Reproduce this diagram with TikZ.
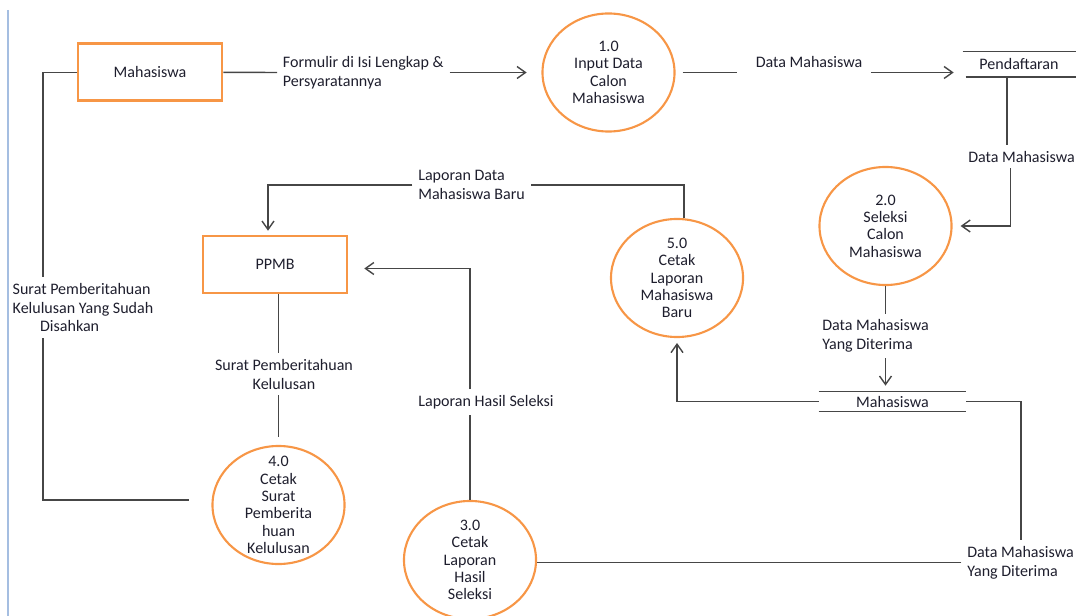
\documentclass[tikz,border=0pt]{standalone}
\usepackage{fontspec}
\setmainfont{Carlito}
\usepackage{xcolor}
\usepackage{tikz}
\usetikzlibrary{shapes.geometric,arrows.meta,positioning}
\definecolor{entityorange}{RGB}{247,150,70}
\definecolor{flowgray}{RGB}{70,70,70}
\definecolor{textnavy}{RGB}{30,30,45}
\definecolor{frameblue}{RGB}{165,190,225}

\begin{document}
\begin{tikzpicture}[
    x=0.025cm, y=-0.025cm,
    font=\fontsize{11.4}{13.5}\selectfont, text=textnavy,
    entity/.style={rectangle, draw=entityorange, line width=1.9pt, minimum width=3.6cm, minimum height=1.425cm},
    process/.style={ellipse, draw=entityorange, line width=1.5pt, minimum width=3.3cm, minimum height=2.95cm, inner sep=0pt},
    ptext/.style={align=center, font=\fontsize{11.4}{12.3}\selectfont},
    store/.style={rectangle, inner sep=0pt},
    flowlabel/.style={inner sep=4pt},
    flow/.style={draw=flowgray, line width=1pt},
    arrow/.style={flow, -{Straight Barb[length=6pt,width=8.5pt]}}
]
\useasboundingbox (0,0) rectangle (1076,616);
\draw[frameblue, line width=0.8pt] (8,10) -- (8,616);

% external entities
\node[entity] (mhs) at (150,72.3) {Mahasiswa};
\node[entity] (ppmb) at (275,264.5) {PPMB};

% processes
\node[process, label={[ptext]center:{1.0\\Input Data\\Calon\\Mahasiswa}}] (p1) at (608.5,72.5) {};
\node[process, label={[ptext]center:{2.0\\Seleksi\\Calon\\Mahasiswa}}] (p2) at (885.5,226) {};
\node[process, label={[ptext]center:{3.0\\Cetak\\Laporan\\Hasil\\Seleksi}}] (p3) at (470,560) {};
\node[process, label={[ptext]center:{4.0\\Cetak\\Surat\\Pemberita\\huan\\Kelulusan}}] (p4) at (278.5,505) {};
\node[process, label={[ptext]center:{5.0\\Cetak\\Laporan\\Mahasiswa\\Baru}}] (p5) at (677,278) {};

% data stores
\node[store, minimum width=2.8cm, minimum height=0.625cm] (ds1) at (1019,64.2) {Pendaftaran};
\node[store, minimum width=3.675cm, minimum height=0.475cm] (ds2) at (892.5,401.5) {Mahasiswa};
\draw[flow] (ds1.north west) -- ++(125,0);
\draw[flow] ([xshift=0.075cm]ds1.south west) -- ++(125,0);
\draw[flow] (ds2.north west) -- (ds2.north east);
\draw[flow] (ds2.south west) -- (ds2.south east);

% flow labels
\node[flowlabel, anchor=west, align=left] (f1) at (277,72.5) {Formulir di Isi Lengkap \&\\Persyaratannya};
\node[flowlabel] (l2) at (809,62) {Data Mahasiswa};
\node[flowlabel] (l3) at (1021.5,156.7) {Data Mahasiswa};
\node[flowlabel, anchor=west, align=left] (l4) at (816.4,336) {Data Mahasiswa\\Yang Diterima};
\node[flowlabel, anchor=west, align=left] (l5) at (412.4,185) {Laporan Data\\Mahasiswa Baru};
\node[flowlabel, anchor=west, align=left] (l6) at (961.4,562.5) {Data Mahasiswa\\Yang Diterima};
\node[flowlabel] (l7) at (486,402) {Laporan Hasil Seleksi};
\node[flowlabel, align=center] (l8) at (284,374) {Surat Pemberitahuan\\Kelulusan};
\node[flowlabel, anchor=west, align=left] (l9) at (6.8,307.5) {Surat Pemberitahuan\\Kelulusan Yang Sudah\\\hspace*{19.5pt}Disahkan};

% flows
\draw[flow] (mhs.east) -- (f1.west);
\draw[arrow, shorten >=10.5pt] (f1.east) -- (p1);
\draw[flow, shorten <=5pt, shorten >=9pt] (p1.east) -- (l2.west |- p1.east);
\draw[arrow, shorten <=2pt, shorten >=6.4pt] (l2.east |- p1.east) -- (ds1.west |- p1.east);
\draw[flow] ([xshift=-0.3cm]ds1.south) -- ([xshift=-0.3cm]ds1.south |- l3.north);
\draw[arrow, shorten >=5.7pt] ([xshift=-0.27cm]l3.south) |- (p2.east);
\draw[flow] (p2.south) -- (p2.south |- l4.north);
\draw[arrow, shorten >=4.3pt] (p2.south |- l4.south) -- (p2.south |- ds2.north);
\draw[arrow, shorten >=3.5pt] (ds2.west) -| (p5.south);
\draw[flow] (ds2.east) -| ([xshift=1.49cm]l6.north west);
\draw[flow] (l6.west) -- (l6.west -| p3.east);
\draw[flow] (p3.north) -- (p3.north |- l7.south);
\draw[arrow, shorten >=11.3pt] (p3.north |- l7.north) |- ([yshift=-0.1cm]ppmb.east);
\draw[flow] (p4.north |- ppmb.south) -- (p4.north |- l8.north);
\draw[flow, shorten >=5.7pt] (p4.north |- l8.south) -- (p4.north);
\draw[flow, shorten >=16.3pt] ([xshift=0.9cm]l9.south west) |- ([yshift=0.125cm]p4.west);
\draw[flow] ([xshift=0.9cm]l9.north west) |- (mhs.west);
\draw[flow] ([xshift=0.175cm]p5.north) |- (l5.east);
\draw[arrow, shorten >=2.8pt] (l5.west) -| ([xshift=-0.175cm]ppmb.north);

\end{tikzpicture}
\end{document}
